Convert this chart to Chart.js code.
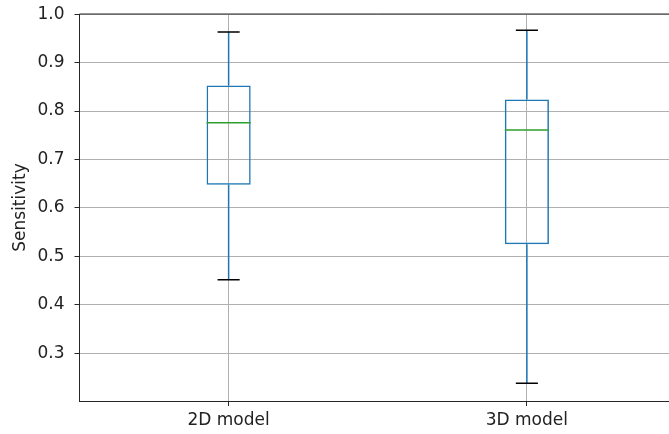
<!DOCTYPE html>
<html>
<head>
<meta charset="utf-8">
<script src="https://cdn.jsdelivr.net/npm/chart.js@4.4.1/dist/chart.umd.min.js"></script>
<style>
  html, body { margin: 0; padding: 0; overflow: hidden; background: #fff; }
  #wrap { width: 677px; height: 434px; }
</style>
</head>
<body>
<div id="wrap"><canvas id="boxChart"></canvas></div>
<script>
// Datos
const categories = ['2D model', '3D model'];
const whiskerLow = [0.4515, 0.238];
const q1Values = [0.648, 0.525];
const medianValues = [0.776, 0.761];
const q3Values = [0.853, 0.824];
const whiskerHigh = [0.963, 0.967];
const yTicks = [0.3, 0.4, 0.5, 0.6, 0.7, 0.8, 0.9, 1.0];

const boxColor = '#1f77b4';
const medianColor = '#2ca02c';
const capColor = '#000000';
const gridColor = '#b0b0b0';
const axisColor = '#262626';
const textColor = '#222';

// Bigotes, tapas y mediana dibujados con las escalas del gráfico
const boxPlugin = {
    id: 'boxWhiskers',
    afterDatasetsDraw(chart) {
        const ctx = chart.ctx;
        const yScale = chart.scales.y;
        const meta = chart.getDatasetMeta(0);
        ctx.save();
        meta.data.forEach((bar, i) => {
            const x = bar.x;
            const half = bar.width / 2;
            const yLow = yScale.getPixelForValue(whiskerLow[i]);
            const yQ1 = yScale.getPixelForValue(q1Values[i]);
            const yMed = yScale.getPixelForValue(medianValues[i]);
            const yQ3 = yScale.getPixelForValue(q3Values[i]);
            const yHigh = yScale.getPixelForValue(whiskerHigh[i]);

            ctx.lineWidth = 1.5;
            ctx.strokeStyle = boxColor;
            ctx.beginPath();
            ctx.moveTo(x, yQ1);
            ctx.lineTo(x, yLow);
            ctx.moveTo(x, yQ3);
            ctx.lineTo(x, yHigh);
            ctx.stroke();

            ctx.strokeStyle = capColor;
            ctx.beginPath();
            ctx.moveTo(x - half / 2, yLow);
            ctx.lineTo(x + half / 2, yLow);
            ctx.moveTo(x - half / 2, yHigh);
            ctx.lineTo(x + half / 2, yHigh);
            ctx.stroke();

            ctx.strokeStyle = medianColor;
            ctx.beginPath();
            ctx.moveTo(x - half, yMed);
            ctx.lineTo(x + half, yMed);
            ctx.stroke();
        });

        // borde superior del área
        const area = chart.chartArea;
        ctx.strokeStyle = axisColor;
        ctx.lineWidth = 1;
        ctx.beginPath();
        ctx.moveTo(area.left, area.top);
        ctx.lineTo(area.right, area.top);
        ctx.stroke();
        ctx.restore();
    }
};

const tickFont = { family: 'DejaVu Sans', size: 17 };

new Chart(document.getElementById('boxChart').getContext('2d'), {
    type: 'bar',
    data: {
        labels: categories,
        datasets: [{
            label: 'Sensitivity',
            data: q1Values.map((q1, i) => [q1, q3Values[i]]),
            backgroundColor: 'rgba(0,0,0,0)',
            borderColor: boxColor,
            borderWidth: 1.5,
            borderSkipped: false,
            categoryPercentage: 1,
            barPercentage: 0.148
        }]
    },
    options: {
        responsive: true,
        maintainAspectRatio: false,
        animation: false,
        layout: { padding: { top: 14, right: 1, left: 0, bottom: 0 } },
        plugins: {
            legend: { display: false },
            tooltip: { enabled: false }
        },
        scales: {
            x: {
                type: 'category',
                offset: true,
                grid: {
                    offset: false,
                    color: gridColor,
                    lineWidth: 1,
                    tickColor: axisColor,
                    tickLength: 5
                },
                border: { color: axisColor, width: 1 },
                ticks: { font: tickFont, color: textColor, padding: 4 },
                afterFit(scale) {
                    scale.height = 33;
                    scale.paddingLeft = 0;
                    scale.paddingRight = 0;
                }
            },
            y: {
                min: 0.2014,
                max: 1.0004,
                grid: {
                    color: gridColor,
                    lineWidth: 1,
                    tickColor: axisColor,
                    tickLength: 5
                },
                border: { color: axisColor, width: 1 },
                ticks: {
                    font: tickFont,
                    color: textColor,
                    padding: 10,
                    callback: v => v.toFixed(1)
                },
                afterBuildTicks(scale) {
                    scale.ticks = yTicks.map(v => ({ value: v }));
                },
                title: {
                    display: true,
                    text: 'Sensitivity',
                    font: { family: 'DejaVu Sans', size: 17 },
                    color: textColor,
                    padding: { top: 10, bottom: 0 }
                },
                afterFit(scale) {
                    scale.width = 79.5;
                    scale.paddingTop = 0;
                    scale.paddingBottom = 0;
                }
            }
        }
    },
    plugins: [boxPlugin]
});
</script>
</body>
</html>
